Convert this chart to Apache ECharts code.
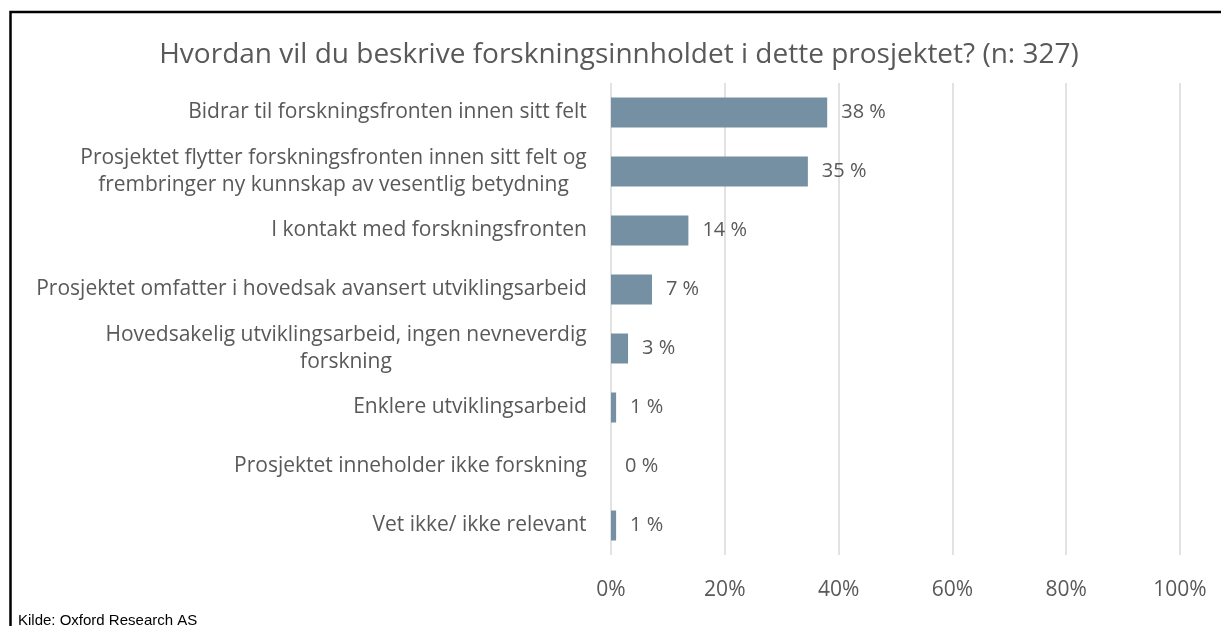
<!DOCTYPE html>
<html>
<head>
<meta charset="utf-8">
<script src="https://cdn.jsdelivr.net/npm/echarts@6/dist/echarts.min.js"></script>
<style>
html,body{margin:0;padding:0;background:#fff;}
#chart{width:1221px;height:626px;}
</style>
</head>
<body>
<div id="chart"></div>
<script>
const titleText = 'Hvordan vil du beskrive forskningsinnholdet i dette prosjektet? (n: 327)';
const sourceText = 'Kilde: Oxford Research AS';
const categories = [
  'Bidrar til forskningsfronten innen sitt felt',
  'Prosjektet flytter forskningsfronten innen sitt felt og\nfrembringer ny kunnskap av vesentlig betydning',
  'I kontakt med forskningsfronten',
  'Prosjektet omfatter i hovedsak avansert utviklingsarbeid',
  'Hovedsakelig utviklingsarbeid, ingen nevneverdig\nforskning',
  'Enklere utviklingsarbeid',
  'Prosjektet inneholder ikke forskning',
  'Vet ikke/ ikke relevant'
];
const values = [38.0, 34.6, 13.6, 7.2, 3.0, 0.9, 0, 0.9];
const valueLabels = ['38 %', '35 %', '14 %', '7 %', '3 %', '1 %', '0 %', '1 %'];
const xTicks = [0, 20, 40, 60, 80, 100];

const FONT = 'Open Sans';
const labelSize = 21;
const textColor = '#595959';

// measure label widths so multi-line labels are centred within their block
const cv = document.createElement('canvas').getContext('2d');
cv.font = labelSize + 'px "' + FONT + '"';
const rich = {};
categories.forEach((c, i) => {
  const w = Math.max(...c.split('\n').map(l => cv.measureText(l).width));
  rich['c' + i] = {width: Math.ceil(w), align: 'center', fontSize: labelSize, fontFamily: FONT, color: textColor, lineHeight: 27};
});

const chart = echarts.init(document.getElementById('chart'), null, {renderer: 'canvas'});
chart.setOption({
  animation: false,
  backgroundColor: '#ffffff',
  title: {
    text: titleText,
    left: 614,
    textAlign: 'center',
    top: 36,
    textStyle: {fontFamily: FONT, fontSize: 28, fontWeight: 'normal', color: textColor}
  },
  grid: {left: 611, right: 41, top: 83, bottom: 71, containLabel: false},
  xAxis: {
    type: 'value', min: 0, max: 100, interval: 20,
    axisLine: {show: false}, axisTick: {show: false},
    splitLine: {show: true, lineStyle: {color: '#d9d9d9', width: 1.5}},
    axisLabel: {formatter: v => xTicks.includes(v) ? v + '%' : '', color: textColor, fontFamily: FONT, fontSize: 21, margin: 25}
  },
  yAxis: {
    type: 'category', inverse: true, data: categories,
    axisLine: {show: false}, axisTick: {show: false},
    axisLabel: {
      margin: 24,
      formatter: (v, i) => v.split('\n').map(l => '{c' + i + '|' + l + '}').join('\n'),
      rich: rich
    }
  },
  series: [{
    type: 'bar',
    data: values,
    barWidth: 30,
    itemStyle: {color: '#7590a3'},
    label: {
      show: true, position: 'right', distance: 14,
      formatter: p => valueLabels[p.dataIndex],
      color: textColor, fontFamily: FONT, fontSize: 20
    }
  }],
  graphic: [
    {type: 'polyline', shape: {points: [[10.5, 626], [10.5, 12], [1221, 12]]}, style: {stroke: '#000', lineWidth: 2.5, fill: null}},
    {type: 'text', left: 18, top: 613, style: {text: sourceText, font: '15px "Liberation Sans", Arial, sans-serif', fill: '#000'}}
  ]
});
</script>
</body>
</html>
